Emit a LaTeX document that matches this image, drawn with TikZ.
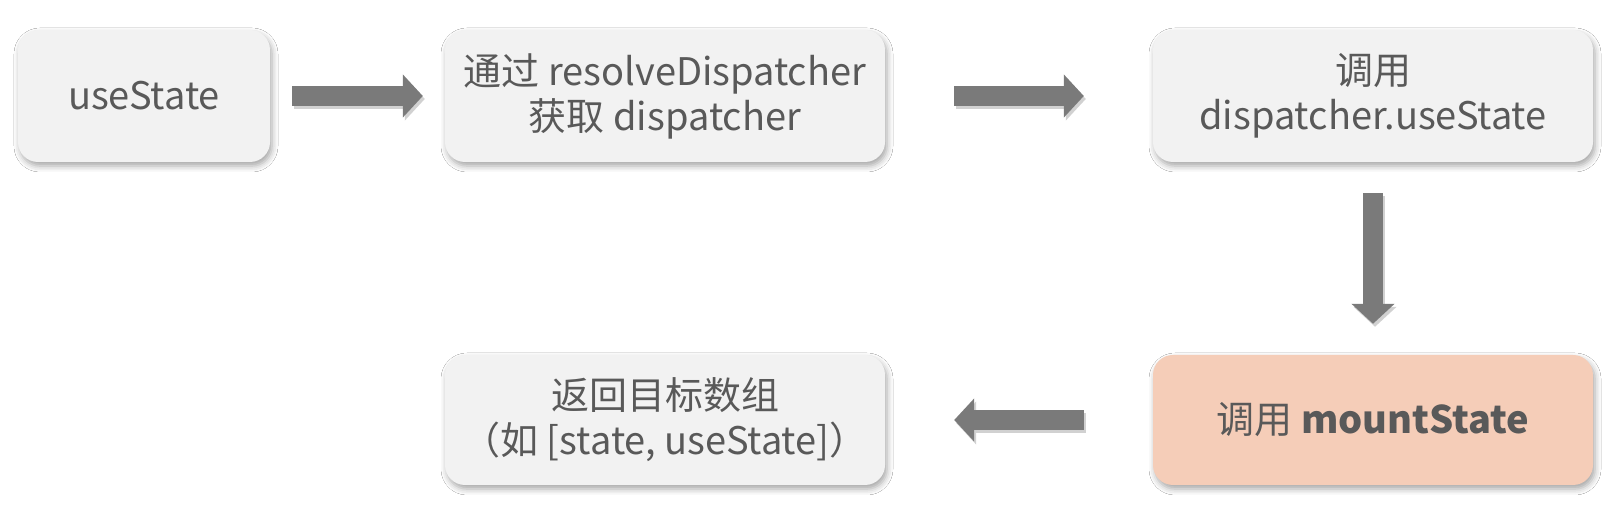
\documentclass[tikz,border=0pt]{standalone}
\usepackage{fontspec}
\setmainfont{Noto Sans CJK SC}
\usetikzlibrary{arrows.meta, positioning, shadows.blur}

\definecolor{boxgray}{HTML}{F2F2F2}
\definecolor{txtgray}{HTML}{595959}
\definecolor{arrgray}{HTML}{7A7A7A}
\definecolor{peach}{HTML}{F5CDB8}

\tikzset{
  stepbox/.style={rounded corners=20pt, fill=boxgray, text=txtgray,
                  minimum width=440pt, minimum height=132pt, align=center,
                  font=\fontsize{38}{45}\selectfont,
                  blur shadow={shadow xshift=2pt, shadow yshift=-4pt,
                               shadow opacity=35, shadow blur radius=6pt}},
  fatarrow/.style={arrgray, line width=20pt,
                   -{Triangle[length=20pt, width=42pt]}},
}

\begin{document}
\begin{tikzpicture}[x=1pt, y=1pt]
  \fill[white] (0,0) rectangle (1617,505);
  \useasboundingbox (0,0) rectangle (1617,505);

  % Top row
  \node[stepbox, minimum width=252pt] (usestate) at (144,409) {useState};
  \node[stepbox] (getdisp) at (665,409) {通过 resolveDispatcher\\获取 dispatcher};
  \node[stepbox] (calldisp) at (1373,409) {调用\\dispatcher.useState};

  % Bottom row
  \node[stepbox, fill=peach, minimum height=130pt] (mount) at (1373,85)
    {调用 \textbf{mountState}};
  \node[stepbox, minimum height=130pt] (result) at (665,85)
    {返回目标数组\\（如 [state, useState]）};

  % Arrows between the steps
  \foreach \from/\to/\gap in {usestate/getdisp/22pt, getdisp/calldisp/69pt,
                              calldisp/mount/31pt, mount/result/69pt} {
    \draw[fatarrow, black!18, transform canvas={shift={(2pt,-3pt)}},
          shorten <=\gap, shorten >=\gap] (\from) -- (\to);
    \draw[fatarrow, shorten <=\gap, shorten >=\gap] (\from) -- (\to);
  }
\end{tikzpicture}
\end{document}
